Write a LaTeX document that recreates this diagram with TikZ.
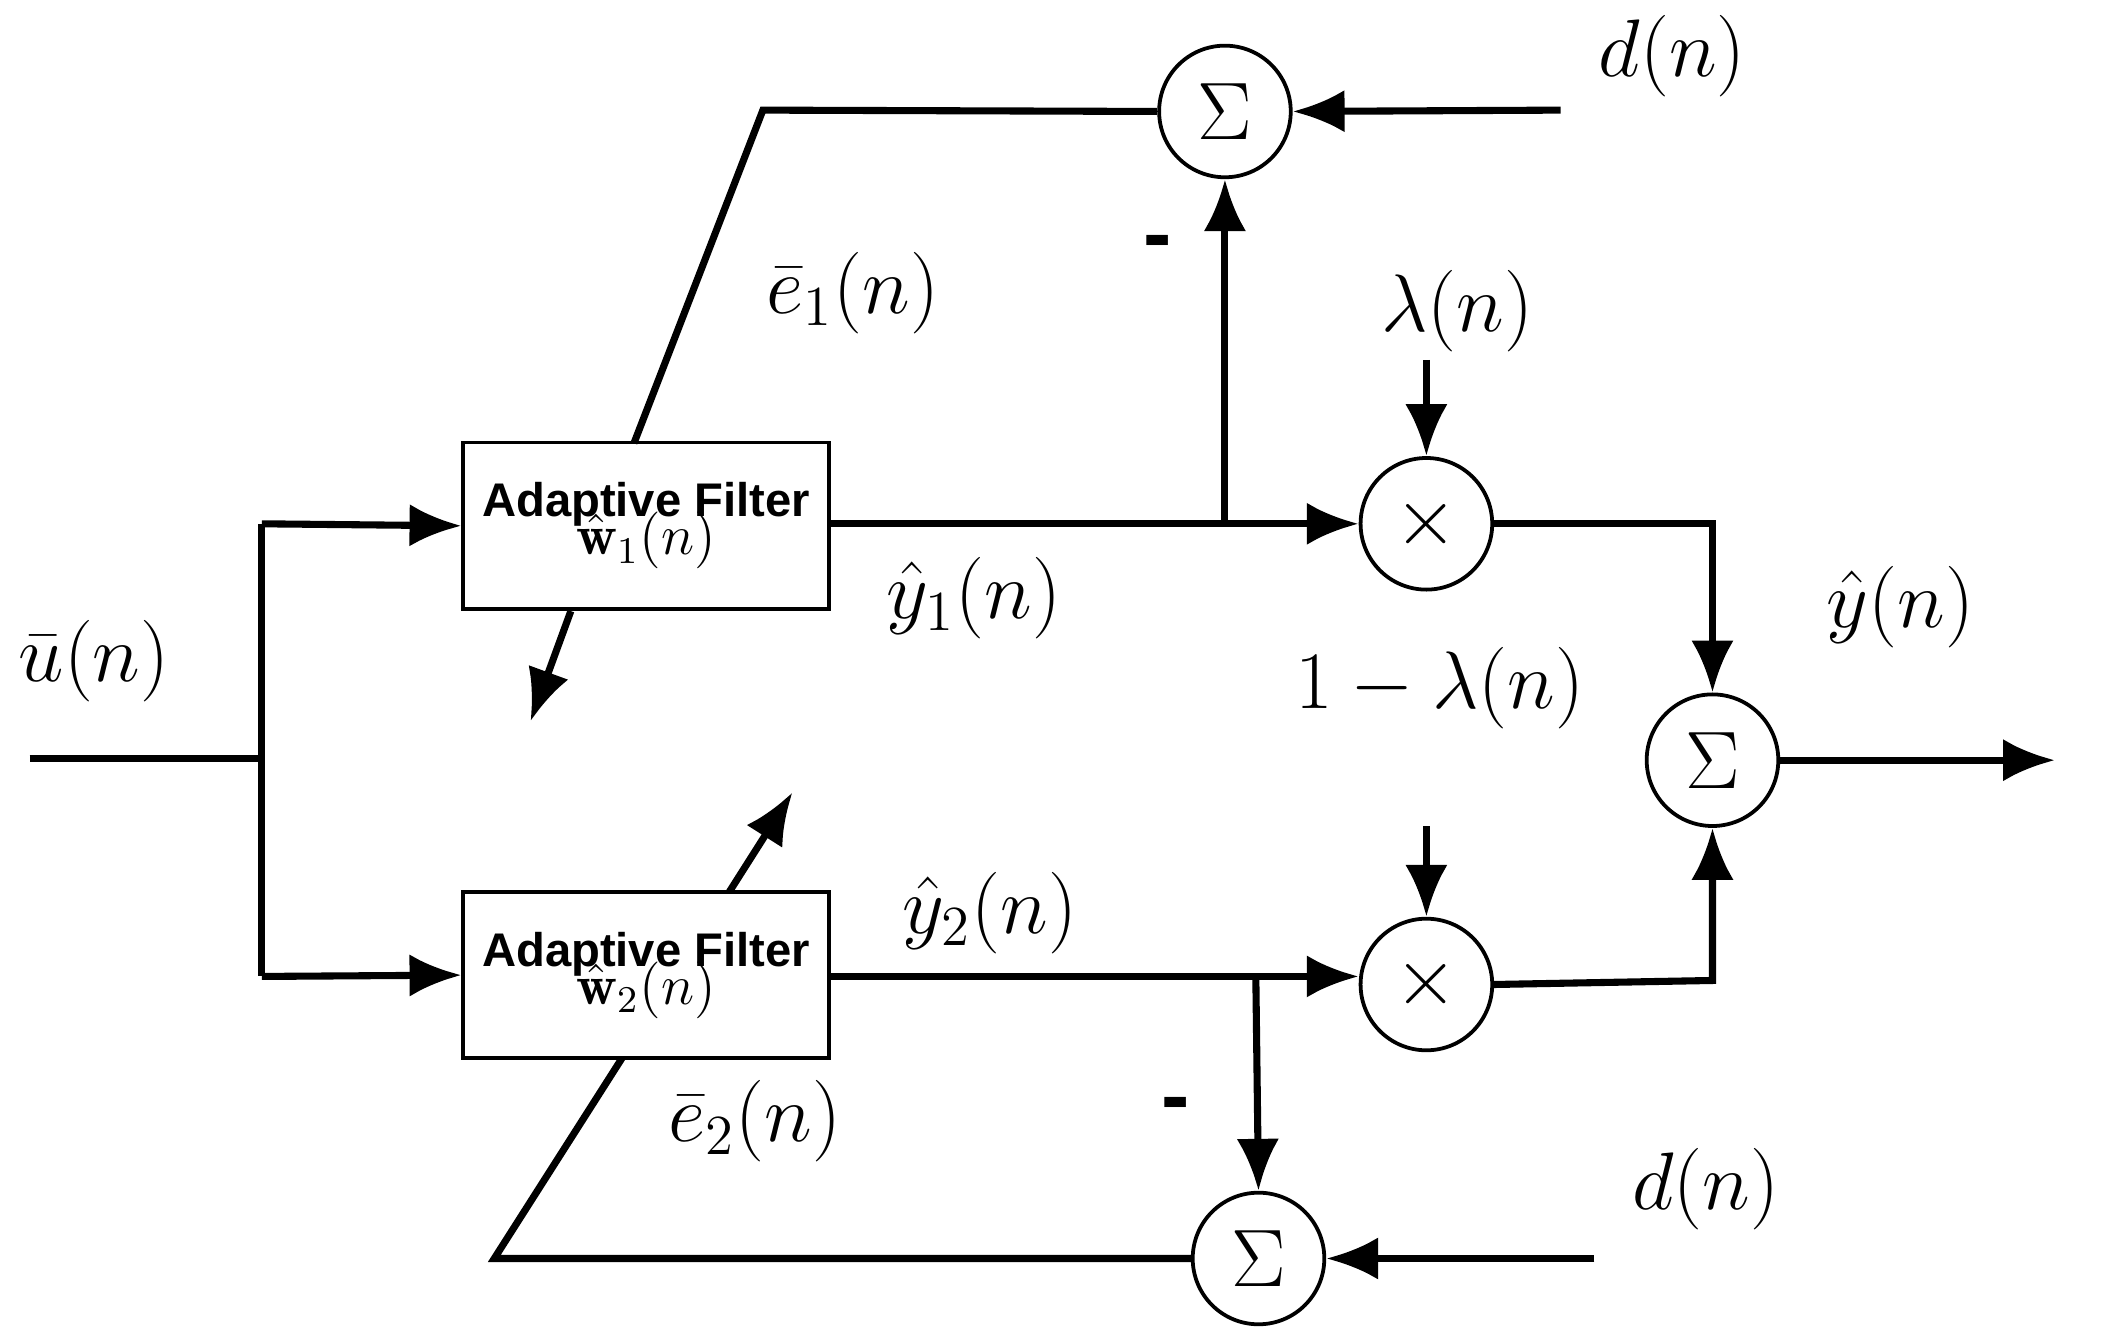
\documentclass[tikz,border=0pt]{standalone}
\usepackage{fontspec}
\setsansfont{Liberation Sans}
\usetikzlibrary{arrows.meta}
\begin{document}
\begin{tikzpicture}[x=1cm,y=-1cm,
  wire/.style={line width=1.5pt},
  arr/.style={wire,-{Latex[length=11pt,width=9pt]}},
  op/.style={circle,draw,line width=0.8pt,minimum size=0.98cm,inner sep=0pt,font=\fontsize{19}{22}\selectfont},
  filt/.style={draw,line width=0.8pt,minimum width=2.72cm,minimum height=1.24cm,align=center,inner sep=1pt},
  lbl/.style={font=\fontsize{18}{20}\selectfont,inner sep=1pt}]
\useasboundingbox (0,0) rectangle (15.68,10.0);
% filters
\node[filt] (f1) at (4.81,3.915) {\fontsize{10}{11}\sffamily\bfseries Adaptive Filter\\[-4pt]\fontsize{12}{12}\selectfont$\hat{\mathbf{w}}_1(n)$};
\node[filt] (f2) at (4.81,7.26) {\fontsize{10}{11}\sffamily\bfseries Adaptive Filter\\[-4pt]\fontsize{12}{12}\selectfont$\hat{\mathbf{w}}_2(n)$};
% operators
\node[op] (s1) at (9.12,0.83) {$\Sigma$};
\node[op] (s2) at (9.37,9.37) {$\Sigma$};
\node[op] (s3) at (12.75,5.66) {$\Sigma$};
\node[op] (m1) at (10.62,3.90) {$\times$};
\node[op] (m2) at (10.62,7.33) {$\times$};
% coordinates
\coordinate (in) at (0.22,5.65);
\coordinate (br) at (1.95,5.65);
\coordinate (b1) at (1.95,3.90);
\coordinate (b2) at (1.95,7.27);
\coordinate (t1) at (9.12,3.90);
\coordinate (t2) at (9.35,7.27);
\coordinate (d1) at (11.62,0.82);
\coordinate (d2) at (11.87,9.37);
\coordinate (c1) at (5.68,0.82);
\coordinate (c2) at (3.68,9.37);
\coordinate (e1a) at (4.72,3.30);
\coordinate (e1b) at (4.25,4.55);
\coordinate (e1c) at (3.95,5.37);
\coordinate (e2a) at (4.63,7.88);
\coordinate (e2b) at (5.43,6.64);
\coordinate (e2c) at (5.90,5.90);
\coordinate (l1) at (10.62,2.68);
\coordinate (l2) at (10.62,6.15);
\coordinate (r1) at (12.75,3.90);
\coordinate (r2) at (12.75,7.30);
\coordinate (out) at (15.30,5.66);
% input
\draw[wire] (in) -- (br);
\draw[wire] (b1) -- (b2);
\draw[arr] (b1) -- (f1.west);
\draw[arr] (b2) -- (f2.west);
% outputs
\draw[arr] (f1.east |- t1) -- (m1.west);
\draw[arr] (f2.east |- t2) -- (t2 -| m2.west);
\draw[arr] (t1) -- (s1.south);
\draw[arr] (t2) -- (s2.north);
\draw[arr] (d1) -- (s1.east);
\draw[arr] (d2) -- (s2.east);
% errors
\draw[wire] (s1.west) -- (c1) -- (e1a);
\draw[arr] (e1b) -- (e1c);
\draw[wire] (s2.west) -- (c2) -- (e2a);
\draw[arr] (e2b) -- (e2c);
% combination
\draw[arr] (l1) -- (m1.north);
\draw[arr] (l2) -- (m2.north);
\draw[arr] (m1.east) -- (r1) -- (s3.north);
\draw[arr] (m2.east) -- (r2) -- (s3.south);
\draw[arr] (s3.east) -- (out);
% labels
\node[lbl] (ld1) at (12.45,0.42) {$d(n)$};
\node[lbl] (ld2) at (12.70,8.85) {$d(n)$};
\node[lbl] (le1) at (6.35,2.18) {$\bar{e}_1(n)$};
\node[lbl] (le2) at (5.62,8.35) {$\bar{e}_2(n)$};
\node[lbl] (lm1) at (8.62,1.85) {\sffamily\bfseries -};
\node[lbl] (lm2) at (8.75,8.27) {\sffamily\bfseries -};
\node[lbl] (lla) at (10.85,2.32) {$\lambda(n)$};
\node[lbl] (llb) at (10.72,5.12) {$1-\lambda(n)$};
\node[lbl] (ly1) at (7.25,4.45) {$\hat{y}_1(n)$};
\node[lbl] (ly2) at (7.37,6.80) {$\hat{y}_2(n)$};
\node[lbl] (ly) at (14.15,4.52) {$\hat{y}(n)$};
\node[lbl] (lu) at (0.70,4.92) {$\bar{u}(n)$};
\end{tikzpicture}
\end{document}
